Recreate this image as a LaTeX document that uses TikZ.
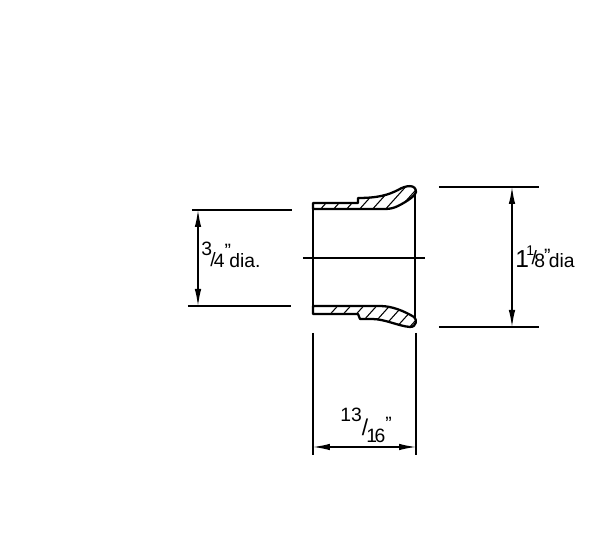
\documentclass[tikz,border=0pt]{standalone}
\usepackage{fontspec}
\setmainfont{Liberation Sans}
\usetikzlibrary{arrows.meta,positioning}
\tikzset{
    dimline/.style = {line width=0.75pt, {Latex[length=3.4mm,width=1.3mm]}-{Latex[length=3.4mm,width=1.3mm]}},
    extline/.style = {line width=0.7pt},
    outline/.style = {line width=1.3pt, line join=round},
    hatchline/.style = {line width=0.6pt},
    lbl/.style = {inner sep=0pt, font=\fontsize{11}{12}\selectfont},
}
\newcommand\qmark[1]{\raisebox{#1}{"}}
\newcommand\topsection{(313,203) -- (358,203) -- (358,198) .. controls (378,198) and (388,195) .. (398,190)
    .. controls (406,185) and (416,184) .. (416,192) .. controls (416,195) and (408,201) .. (398,206)
    .. controls (394,208) and (390,209) .. (385,209) -- (313,209) -- cycle}
\newcommand\botsection{(313,306) -- (380,306) .. controls (392,306) and (404,311) .. (414,317)
    .. controls (417,319) and (417,327) .. (410,327) .. controls (398,326) and (385,319) .. (372,319)
    -- (360,319) -- (358,314) -- (313,314) -- cycle}
\begin{document}
\begin{tikzpicture}[x=0.02cm,y=-0.02cm]
      \useasboundingbox (0,0) rectangle (600,550);
      % section hatching
      \begin{scope}
        \clip \topsection;
        \foreach \hx in {318,331,...,422}
          \draw[hatchline] (\hx,212) -- (\hx+27,182);
      \end{scope}
      \begin{scope}
        \clip \botsection;
        \foreach \hx in {316,329,...,420}
          \draw[hatchline] (\hx,330) -- (\hx+27,300);
      \end{scope}
      % part outline
      \draw[outline] \topsection;
      \draw[outline] \botsection;
      \draw[outline] (313,209) -- (313,306);
      \draw[outline] (415,193) -- (415,319);
      \coordinate (axisL) at (303,258);
      \coordinate (axisR) at (425,258);
      \draw[extline] (axisL) -- (axisR);

      % extension lines
      \coordinate (boreTopL) at (192,210);
      \coordinate (boreTopR) at (292,210);
      \coordinate (boreBotL) at (188,306);
      \coordinate (boreBotR) at (291,306);
      \coordinate (flareTopL) at (439,187);
      \coordinate (flareTopR) at (539,187);
      \coordinate (flareBotL) at (439,327);
      \coordinate (flareBotR) at (539,327);
      \coordinate (lenLeftT) at (313,333);
      \coordinate (lenLeftB) at (313,455);
      \coordinate (lenRightT) at (416,333);
      \coordinate (lenRightB) at (416,455);
      \draw[extline] (boreTopL) -- (boreTopR);
      \draw[extline] (boreBotL) -- (boreBotR);
      \draw[extline] (flareTopL) -- (flareTopR);
      \draw[extline] (flareBotL) -- (flareBotR);
      \draw[extline] (lenLeftT) -- (lenLeftB);
      \draw[extline] (lenRightT) -- (lenRightB);

      % dimensions
      \coordinate (boreA) at (198,210);
      \coordinate (boreB) at (198,306);
      \coordinate (flareA) at (512,187);
      \coordinate (flareB) at (512,327);
      \coordinate (lenA) at (313,447);
      \coordinate (lenB) at (416,447);
      \draw[dimline] (boreA) -- (boreB);
      \draw[dimline] (flareA) -- (flareB);
      \draw[dimline] (lenA) -- (lenB);

      \node[lbl, anchor=base west] (boreText) at (201,268) {\raisebox{7pt}{3}\kern-1pt\raisebox{1pt}{/}\kern-1pt 4\qmark{6pt}\kern-1pt dia.};
      \node[lbl, anchor=base west] (flareText) at (515,268) {{\fontsize{14}{14}\selectfont 1}\kern-1.5pt{\fontsize{8}{8}\selectfont\raisebox{7pt}{1}}\kern-1.5pt\raisebox{2pt}{/}\kern-1.5pt 8\kern-0.5pt\qmark{3pt}\kern-1pt dia};
      \node[lbl, anchor=base west] (lenText) at (340,443) {\raisebox{12pt}{13}{\fontsize{13}{13}\selectfont\raisebox{4pt}{/}}\kern-1pt 1\kern-1.5pt 6\qmark{7pt}};
    \end{tikzpicture}
\end{document}
